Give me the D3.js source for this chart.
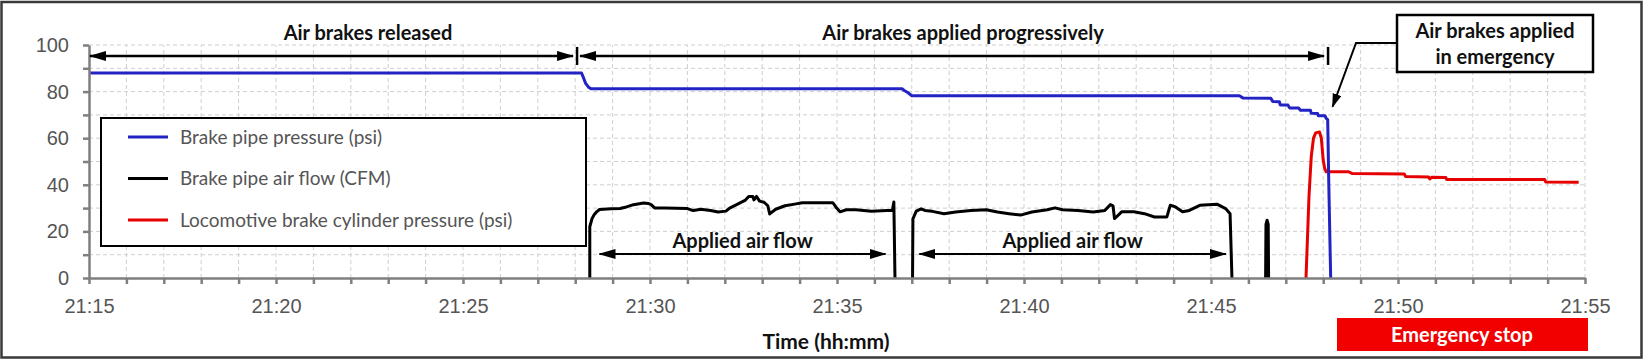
<!DOCTYPE html>
<html>
<head>
<meta charset="utf-8">
<script src="https://cdn.jsdelivr.net/npm/d3@7"></script>
<style>
  body { margin: 0; background: #fff; }
  svg { display: block; font-family: Lato, "Open Sans", sans-serif; }
  .grid line { stroke: #cfcfcf; stroke-dasharray: 4,3; stroke-width: 1; }
  .axis path, .axis line { stroke: #7f7f7f; stroke-width: 2.5; }
  .axis text { fill: #555; font-size: 20px; }
  .note { font-weight: bold; font-size: 20px; fill: #111; }
</style>
</head>
<body>
<div id="chart"></div>
<script>
const width = 1643,
  height = 360,
  margin = { top: 45, right: 58, bottom: 82, left: 89 };

// minutes after 21:15, value
const brakePipePressure = [
  [0, 88], [13.17, 88], [13.22, 86], [13.28, 83.5], [13.35, 82], [13.42, 81.2],
  [21.74, 81.2], [21.8, 80.5], [21.9, 79.5], [22.0, 78.2], [30.76, 78.2],
  [30.85, 77.3], [31.6, 77.1], [31.65, 75.8], [31.83, 75.6], [31.85, 74.3],
  [32.06, 74.2], [32.1, 73], [32.34, 73], [32.39, 72], [32.66, 72], [32.68, 70.7],
  [32.85, 70.6], [32.87, 69.6], [33.05, 69.6], [33.08, 68.5], [33.12, 68],
  [33.15, 40], [33.2, 0]
];

const airFlowA = [
  [13.39, 0], [13.39, 22], [13.45, 25.5], [13.5, 27], [13.58, 28.5], [13.65, 29.4],
  [13.96, 29.7], [14.2, 29.8], [14.37, 30.5], [14.52, 31.3], [14.83, 32.2],
  [14.95, 32], [15.03, 31.5], [15.13, 30], [15.39, 30], [16.0, 29.8], [16.1, 29.2],
  [16.16, 29], [16.36, 29.5], [16.62, 29], [16.82, 28.3], [17.03, 28.7], [17.13, 30],
  [17.33, 31.6], [17.54, 33.3], [17.64, 35], [17.75, 35], [17.78, 33.5], [17.85, 35],
  [17.93, 33], [18.05, 32.5], [18.15, 31], [18.2, 27.5], [18.36, 29.5], [18.61, 31],
  [18.87, 31.7], [19.07, 32.3], [19.89, 32.3], [19.99, 30], [20.08, 28.4],
  [20.25, 29.3], [20.51, 29.3], [20.92, 28.6], [21.33, 29], [21.48, 29],
  [21.52, 32.6], [21.55, 0]
];

const airFlowB = [
  [22.02, 0], [22.03, 25.4], [22.12, 28.7], [22.25, 29.7], [22.35, 29], [22.55, 28.6],
  [22.86, 27.6], [23.17, 28.3], [23.58, 29], [23.99, 29.3], [24.29, 28.3],
  [24.6, 27.6], [24.91, 27], [25.21, 28.3], [25.62, 29.3], [25.83, 30.1],
  [26.03, 29.3], [26.44, 29], [26.85, 28.3], [27.16, 29], [27.31, 31.5], [27.38, 31],
  [27.42, 25.5], [27.47, 26.2], [27.61, 28.4], [27.94, 28.4], [28.22, 27.6],
  [28.49, 26.2], [28.82, 26.2], [28.91, 31.2], [29.05, 30.5], [29.24, 28.4],
  [29.42, 29], [29.7, 31.2], [30.16, 31.7], [30.39, 29.8], [30.51, 27.6], [30.56, 0]
];

const airFlowC = [[31.46, 0], [31.47, 23], [31.5, 24.8], [31.53, 23], [31.54, 0]];

const cylinderPressure = [
  [32.54, 0], [32.57, 13], [32.62, 35], [32.68, 52], [32.74, 60], [32.8, 62.3],
  [32.9, 62.7], [32.95, 60], [33.0, 50.6], [33.04, 47], [33.08, 45.6], [33.68, 45.6],
  [33.78, 44.8], [35.17, 44.6], [35.2, 43.6], [35.82, 43.3], [35.85, 42.5],
  [35.9, 43.2], [36.28, 43.1], [36.3, 42.3], [38.92, 42.3], [38.95, 41.2], [39.83, 41.1]
];

const legendLabels = [
  "Brake pipe pressure (psi)",
  "Brake pipe air flow (CFM)",
  "Locomotive brake cylinder pressure (psi)"
];
const legendColors = ["#2323c4", "#000000", "#e60000"];

const yTicks = [0, 20, 40, 60, 80, 100];
const phaseBounds = [0, 13.05, 33.13]; // released | progressive | emergency
const flowArrows = [[13.65, 21.3], [22.2, 30.4]];

const t0 = new Date(2000, 0, 1, 21, 15);
const toTime = m => new Date(t0.getTime() + m * 60000);

const x = d3.scaleTime()
  .domain([toTime(0), toTime(40)])
  .range([margin.left, width - margin.right]);

const y = d3.scaleLinear()
  .domain([0, 100])
  .range([height - margin.bottom, margin.top]);

const svg = d3.select("#chart")
  .append("svg")
  .attr("width", width)
  .attr("height", height);

const defs = svg.append("defs");
defs.append("marker")
  .attr("id", "head")
  .attr("markerUnits", "userSpaceOnUse")
  .attr("markerWidth", 17)
  .attr("markerHeight", 11)
  .attr("refX", 16)
  .attr("refY", 5)
  .attr("orient", "auto-start-reverse")
  .append("path")
  .attr("d", "M0,0L17,5L0,10Z")
  .attr("fill", "#000");
defs.append("marker")
  .attr("id", "headSmall")
  .attr("markerUnits", "userSpaceOnUse")
  .attr("markerWidth", 14)
  .attr("markerHeight", 10)
  .attr("refX", 13)
  .attr("refY", 4.5)
  .attr("orient", "auto")
  .append("path")
  .attr("d", "M0,0L14,4.5L0,9Z")
  .attr("fill", "#000");

// outer frame
svg.append("rect")
  .attr("x", 1.5).attr("y", 2).attr("width", width - 3).attr("height", height - 4.5)
  .attr("fill", "none").attr("stroke", "#3a3a3a").attr("stroke-width", 2.5);

// grid
const minuteTicks = d3.range(1, 41).map(toTime);
svg.append("g").attr("class", "grid")
  .selectAll("line").data(minuteTicks).join("line")
  .attr("x1", d => x(d)).attr("x2", d => x(d))
  .attr("y1", y(0)).attr("y2", y(100));
svg.append("g").attr("class", "grid")
  .selectAll("line").data(d3.range(10, 101, 10)).join("line")
  .attr("x1", x.range()[0]).attr("x2", x.range()[1])
  .attr("y1", d => y(d)).attr("y2", d => y(d));

// series
const line = d3.line()
  .x(d => x(toTime(d[0])))
  .y(d => y(d[1]));

const series = [
  { data: airFlowA, color: legendColors[1] },
  { data: airFlowB, color: legendColors[1] },
  { data: airFlowC, color: legendColors[1] },
  { data: cylinderPressure, color: legendColors[2] },
  { data: brakePipePressure, color: legendColors[0] }
];
svg.append("g")
  .selectAll("path").data(series).join("path")
  .attr("d", d => line(d.data))
  .attr("fill", "none")
  .attr("stroke", d => d.color)
  .attr("stroke-width", 3)
  .attr("stroke-linejoin", "round");

// axes
const xAxis = d3.axisBottom(x)
  .tickValues(d3.range(0, 41).map(toTime))
  .tickSize(6)
  .tickSizeOuter(0)
  .tickPadding(15)
  .tickFormat((d, i) => i % 5 === 0 ? d3.timeFormat("%H:%M")(d) : "");
svg.append("g")
  .attr("class", "axis")
  .attr("transform", `translate(0,${y(0)})`)
  .call(xAxis);

const yAxis = d3.axisLeft(y)
  .tickValues(d3.range(0, 101, 10))
  .tickSize(6)
  .tickSizeOuter(0)
  .tickPadding(14)
  .tickFormat(d => yTicks.includes(d) ? d : "");
svg.append("g")
  .attr("class", "axis")
  .attr("transform", `translate(${x.range()[0]},0)`)
  .call(yAxis);

svg.append("text")
  .attr("x", 826)
  .attr("y", 349)
  .attr("text-anchor", "middle")
  .attr("font-weight", "bold")
  .attr("font-size", 21)
  .attr("fill", "#111")
  .text("Time (hh:mm)");

// legend
const legend = svg.append("g").attr("transform", "translate(101,118)");
legend.append("rect")
  .attr("width", 485).attr("height", 128)
  .attr("fill", "#fff").attr("stroke", "#000").attr("stroke-width", 2);
const rows = legend.selectAll("g").data(legendLabels).join("g")
  .attr("transform", (d, i) => `translate(0,${19 + i * 41.5})`);
rows.append("line")
  .attr("x1", 27).attr("x2", 67)
  .attr("stroke", (d, i) => legendColors[i]).attr("stroke-width", 3);
rows.append("text")
  .attr("x", 79).attr("dy", "0.35em")
  .attr("font-size", 19).attr("fill", "#555")
  .text(d => d);

// phase annotations at the top
const arrowY = y(95.3);
const notes = svg.append("g");
notes.selectAll("line.bar").data(phaseBounds.slice(1)).join("line")
  .attr("class", "bar")
  .attr("x1", d => x(toTime(d))).attr("x2", d => x(toTime(d)))
  .attr("y1", arrowY - 9).attr("y2", arrowY + 9)
  .attr("stroke", "#000").attr("stroke-width", 2.5);
notes.append("line")
  .attr("x1", x(toTime(phaseBounds[0])) + 1).attr("x2", x(toTime(phaseBounds[1])) - 4)
  .attr("y1", arrowY).attr("y2", arrowY)
  .attr("stroke", "#000").attr("stroke-width", 2.5)
  .attr("marker-start", "url(#head)").attr("marker-end", "url(#head)");
notes.append("line")
  .attr("x1", x(toTime(phaseBounds[1])) + 3).attr("x2", x(toTime(phaseBounds[2])) - 4)
  .attr("y1", arrowY).attr("y2", arrowY)
  .attr("stroke", "#000").attr("stroke-width", 2.5)
  .attr("marker-start", "url(#head)").attr("marker-end", "url(#head)");
notes.append("text").attr("class", "note")
  .attr("x", x(toTime(7.46))).attr("y", 40).attr("text-anchor", "middle")
  .text("Air brakes released");
notes.append("text").attr("class", "note")
  .attr("x", x(toTime(23.37))).attr("y", 40).attr("text-anchor", "middle")
  .text("Air brakes applied progressively");

// applied air flow arrows
const flowY = y(10.3);
flowArrows.forEach(([a, b]) => {
  notes.append("line")
    .attr("x1", x(toTime(a))).attr("x2", x(toTime(b)))
    .attr("y1", flowY).attr("y2", flowY)
    .attr("stroke", "#000").attr("stroke-width", 2)
    .attr("marker-start", "url(#head)").attr("marker-end", "url(#head)");
  notes.append("text").attr("class", "note")
    .attr("x", (x(toTime(a)) + x(toTime(b))) / 2).attr("y", y(15.9)).attr("dy", "0.35em")
    .attr("text-anchor", "middle")
    .text("Applied air flow");
});

// emergency callout
const callout = svg.append("g");
callout.append("rect")
  .attr("x", 1397).attr("y", 15).attr("width", 196).attr("height", 57)
  .attr("fill", "#fff").attr("stroke", "#000").attr("stroke-width", 2.5);
callout.selectAll("text").data(["Air brakes applied", "in emergency"]).join("text")
  .attr("class", "note")
  .attr("x", 1495).attr("y", (d, i) => 31 + i * 26).attr("dy", "0.35em")
  .attr("text-anchor", "middle")
  .text(d => d);
callout.append("path")
  .attr("d", `M1397,43L1356,43L${x(toTime(33.25))},${y(73.5)}`)
  .attr("fill", "none").attr("stroke", "#000").attr("stroke-width", 2)
  .attr("marker-end", "url(#headSmall)");

// emergency stop bar
const stop = svg.append("g");
stop.append("rect")
  .attr("x", 1337).attr("y", 318).attr("width", 251).attr("height", 33)
  .attr("fill", "#f20000");
stop.append("text")
  .attr("x", 1462).attr("y", 335).attr("dy", "0.35em")
  .attr("text-anchor", "middle")
  .attr("font-weight", "bold").attr("font-size", 20).attr("fill", "#fff")
  .text("Emergency stop");
</script>
</body>
</html>
